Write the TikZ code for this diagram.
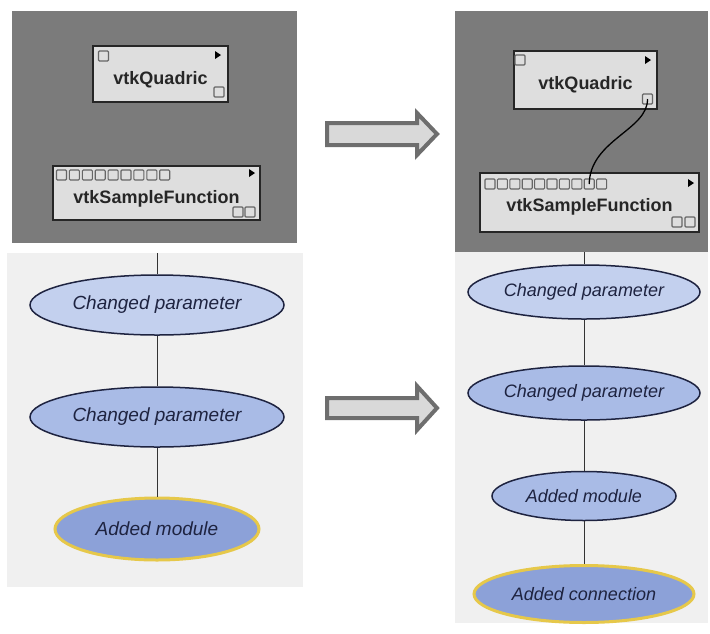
\documentclass[tikz,border=0pt]{standalone}
\usepackage{fontspec}
\setmainfont{Liberation Sans}
\usepackage{tikz}
\usetikzlibrary{shapes, positioning, calc}

\definecolor{canvas}{HTML}{7B7B7B}
\definecolor{sheet}{HTML}{F0F0F0}
\definecolor{boxgray}{HTML}{DEDEDE}
\definecolor{paleblue}{HTML}{C3D0EE}
\definecolor{midblue}{HTML}{A9BBE6}
\definecolor{deepblue}{HTML}{8CA1D8}
\definecolor{navy}{HTML}{1E2340}
\definecolor{gold}{HTML}{E6C84A}

\newcommand{\modlabel}[2]{\raisebox{-#1}[0pt][0pt]{#2}}

\begin{document}
\begin{tikzpicture}[x=1pt,y=-1pt,line join=miter,
    panel/.style={fill=canvas},
    sheetbg/.style={fill=sheet},
    module/.style={draw=black!85, line width=2pt, fill=boxgray, rectangle,
        inner sep=0pt, font=\bfseries\fontsize{18}{20}\selectfont, text=black!85},
    port/.style={draw=black!60, line width=1.1pt, fill=boxgray, rectangle,
        rounded corners=1pt, minimum size=10pt, inner sep=0pt},
    version/.style={ellipse, draw=navy, line width=1.5pt, inner sep=0pt,
        font=\itshape\fontsize{19}{21}\selectfont, text=navy},
    newest/.style={version, draw=gold, line width=3pt},
    link/.style={draw=black!80, line width=1pt},
    bigarrow/.style={draw=black!57, line width=4pt, fill=black!15}]
\useasboundingbox (0,0) rectangle (710,633);

% before
\fill[panel] (12,11) rectangle (297,243);
\fill[sheetbg] (7,253) rectangle (303,587);

\node[module, minimum width=135pt, minimum height=56pt] (q1) at (160.5,74) {\modlabel{10.5pt}{vtkQuadric}};
\node[module, minimum width=207pt, minimum height=54pt] (s1) at (156.5,193) {\modlabel{10.5pt}{vtkSampleFunction}};
\node[port] (q1in) at (103.5,56) {};
\node[port] (q1out) at (219,92) {};
\fill (215,51) -- (221,55) -- (215,59) -- cycle;
\foreach \i in {0,...,8}
    \node[port] (s1in\i) at ({61.5+12.9*\i},175) {};
\node[port] (s1outa) at (238,212) {};
\node[port] (s1outb) at (250,212) {};
\fill (249,169) -- (255,173) -- (249,177) -- cycle;

\coordinate (t1) at (157,253);
\node[version, fill=paleblue, minimum width=254pt, minimum height=60pt] (c1) at (157,305) {Changed parameter};
\node[version, fill=midblue, minimum width=254pt, minimum height=60pt] (c2) at (157,417) {Changed parameter};
\node[newest, fill=deepblue, minimum width=204pt, minimum height=62pt] (m1) at (157,529) {Added module};
\draw[link] (t1) -- (c1) -- (c2) -- (m1);

% arrows
\draw[bigarrow] (327,123) -- (417,123) -- (417,113) -- (437,134) -- (417,155)
    -- (417,145) -- (327,145) -- cycle;
\draw[bigarrow] (327,398) -- (417,398) -- (417,386) -- (437,408) -- (417,430)
    -- (417,418) -- (327,418) -- cycle;

% after
\fill[panel] (455,11) rectangle (708,252);
\fill[sheetbg] (455,252) rectangle (708,623);

\node[module, minimum width=143pt, minimum height=58pt] (q2) at (585.5,80) {\modlabel{9.5pt}{vtkQuadric}};
\node[module, minimum width=219pt, minimum height=59pt] (s2) at (589.5,202.5) {\modlabel{9pt}{vtkSampleFunction}};
\node[port] (q2in) at (520,60) {};
\node[port] (q2out) at (647.5,99) {};
\fill (645,56) -- (651,60) -- (645,64) -- cycle;
\foreach \i in {0,...,9}
    \node[port] (s2in\i) at ({490+12.4*\i},184) {};
\node[port] (s2outa) at (677,222) {};
\node[port] (s2outb) at (690,222) {};
\fill (688,179) -- (694,183) -- (688,187) -- cycle;
\draw[line width=1.3pt] (q2out.center) .. controls (648,130) and (590,140) .. (s2in8.center);

\coordinate (t2) at (584,252);
\node[version, fill=paleblue, minimum width=232pt, minimum height=54pt, font=\itshape\fontsize{18}{20}\selectfont] (c3) at (584,292) {Changed parameter};
\node[version, fill=midblue, minimum width=232pt, minimum height=54pt, font=\itshape\fontsize{18}{20}\selectfont] (c4) at (584,393) {Changed parameter};
\node[version, fill=midblue, minimum width=184pt, minimum height=49pt, font=\itshape\fontsize{18}{20}\selectfont] (m2) at (584,496) {Added module};
\node[newest, fill=deepblue, minimum width=220pt, minimum height=57pt, font=\itshape\fontsize{18}{20}\selectfont] (a2) at (584,594) {Added connection};
\draw[link] (t2) -- (c3) -- (c4) -- (m2) -- (a2);
\end{tikzpicture}
\end{document}
